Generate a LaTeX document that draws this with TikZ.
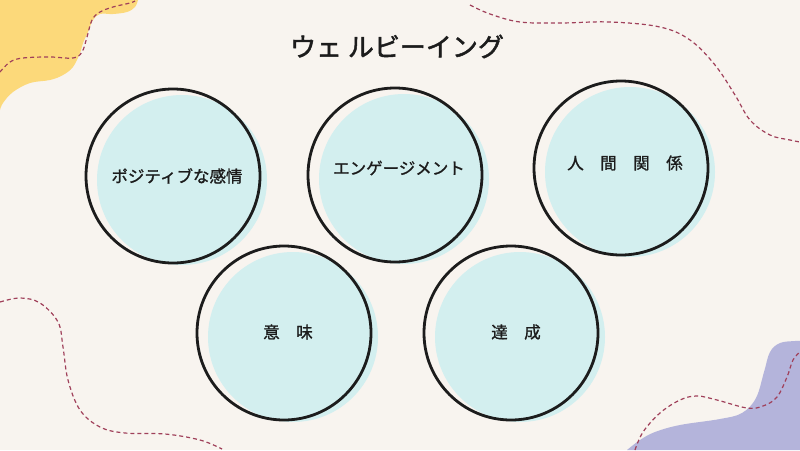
\documentclass[tikz,border=0pt]{standalone}
\usepackage{fontspec}
\newfontfamily\jp[FakeBold=1.2]{Noto Sans CJK JP}
\newfontfamily\jpt[FakeBold=1.8]{Noto Sans CJK JP}
\definecolor{bgc}{HTML}{F8F4EF}
\definecolor{yelc}{HTML}{FCD97A}
\definecolor{purc}{HTML}{B4B4DB}
\definecolor{cyanc}{HTML}{D3EFEF}
\definecolor{dashc}{HTML}{A0405A}
\definecolor{inkc}{HTML}{1C1C1C}
\tikzset{
  bubble/.style={circle, draw=inkc, line width=2.8pt, minimum size=174pt, inner sep=0pt},
  bubblefill/.style={fill=cyanc},
  lbl/.style={font=\jp\fontsize{16.5}{18}\selectfont, text=inkc, inner sep=0pt},
  titlestyle/.style={font=\jpt\fontsize{26}{30}\selectfont, text=inkc, inner sep=0pt},
  dashline/.style={draw=dashc, line width=1.2pt, dash pattern=on 4pt off 3pt}
}
\begin{document}
\begin{tikzpicture}[x=1pt,y=-1pt]
\useasboundingbox (0,0) rectangle (800,450);
\fill[bgc] (0,0) rectangle (800,450);
% yellow blob
\fill[yelc] (0,0) -- plot[smooth, tension=0.6] coordinates {(138,0) (135,7) (127,12) (113,14) (100,14) (93,20) (88,32) (83,43) (80,53) (73,67) (63,75) (50,80) (30,83) (13,92) (3,103) (0,110)} -- cycle;
\draw[dashline] plot[smooth, tension=0.6] coordinates {(0,72) (10,62) (23,58) (50,57) (73,58) (82,52) (87,37) (92,20) (100,12) (113,7) (130,3) (135,1)};
% purple blob
\fill[purc] (800,450) -- plot[smooth, tension=0.6] coordinates {(627,450) (640,440) (655,432) (680,425) (720,419) (742,413) (756,398) (764,372) (770,352) (780,343) (795,341) (800,341)} -- cycle;
\draw[dashline] plot[smooth, tension=0.6] coordinates {(635,450) (643,432) (660,413) (680,400) (697,396) (717,400) (747,408) (763,406) (777,397) (787,377) (793,360) (800,352)};
% left dashed
\draw[dashline] plot[smooth, tension=0.6] coordinates {(0,302) (20,298) (40,303) (58,322) (63,347) (68,380) (80,410) (100,427) (125,433) (165,434) (200,440) (222,449)};
% top right dashed
\draw[dashline] plot[smooth, tension=0.6] coordinates {(470,5) (490,14) (520,22) (560,23) (610,22) (660,27) (690,40) (715,65) (735,95) (750,120) (770,135) (790,140) (800,142)};
% title
\node[titlestyle] (title) at (397,46.5) {ウェ ルビーイング};
% circle fills
\fill[bubblefill] (182,180) circle (85);
\fill[bubblefill] (404,179) circle (85);
\fill[bubblefill] (630,172) circle (85);
\fill[bubblefill] (293,337) circle (85);
\fill[bubblefill] (520,337) circle (85);
% circles
\node[bubble] (c1) at (173,176) {};
\node[bubble] (c2) at (395,175) {};
\node[bubble] (c3) at (621,168) {};
\node[bubble] (c4) at (284,333) {};
\node[bubble] (c5) at (511,333) {};
% labels
\node[lbl] (t1) at ([shift={(4,0)}]c1.center) {ポジティブな感情};
\node[lbl] (t2) at ([shift={(4,-7)}]c2.center) {エンゲージメント};
\node[lbl] (t3) at ([shift={(4,-5)}]c3.center) {人　間　関　係};
\node[lbl] (t4) at ([shift={(4,-1)}]c4.center) {意　味};
\node[lbl] (t5) at ([shift={(5,-1)}]c5.center) {達　成};
\end{tikzpicture}
\end{document}
